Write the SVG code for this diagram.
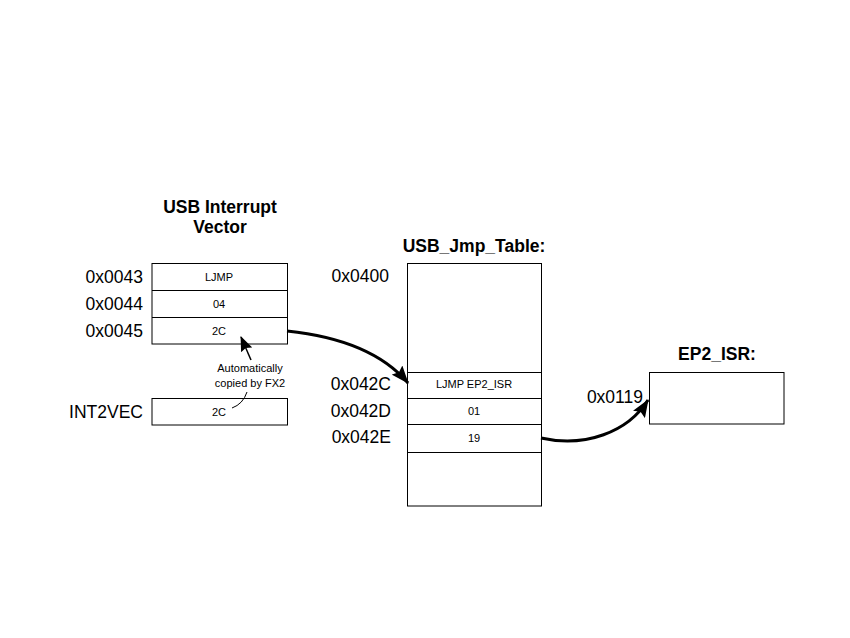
<svg xmlns="http://www.w3.org/2000/svg" width="850" height="638" viewBox="0 0 850 638">
<style>
text{font-family:"Liberation Sans",Arial,sans-serif;fill:#000}
.t{font-size:17.5px;font-weight:bold;text-anchor:middle}
.a{font-size:17.5px;text-anchor:end}
.c{font-size:11px;text-anchor:middle}
.n{font-size:11px;text-anchor:middle}
.box{fill:#fff;stroke:#000;stroke-width:1}
.sep{stroke:#000;stroke-width:1}
.arr{fill:none;stroke:#000;stroke-width:3}
</style>
<defs>
<marker id="ah" markerUnits="userSpaceOnUse" markerWidth="18" markerHeight="14" refX="17" refY="7" orient="auto">
<path d="M0,0 L18,7 L0,14 L3,7 Z" fill="#000"/>
</marker>
<marker id="ahs" markerUnits="userSpaceOnUse" markerWidth="15" markerHeight="12" refX="14" refY="6" orient="auto">
<path d="M0,0 L15,6 L0,12 L2,6 Z" fill="#000"/>
</marker>
</defs>
<rect width="850" height="638" fill="#fff"/>

<g id="usb-interrupt-vector">
<text class="t" x="220" y="213">USB Interrupt</text>
<text class="t" x="220" y="233">Vector</text>
<rect class="box" x="152" y="263.5" width="135.5" height="80.5"/>
<line class="sep" x1="152" y1="290.5" x2="287.5" y2="290.5"/>
<line class="sep" x1="152" y1="317.5" x2="287.5" y2="317.5"/>
<text class="a" x="143" y="283">0x0043</text>
<text class="a" x="143" y="310">0x0044</text>
<text class="a" x="143" y="337">0x0045</text>
<text class="c" x="219" y="281">LJMP</text>
<text class="c" x="219" y="308">04</text>
<text class="c" x="219" y="335">2C</text>
</g>

<g id="int2vec">
<rect class="box" x="152" y="398.5" width="135.5" height="26.5"/>
<text class="a" x="143" y="418">INT2VEC</text>
<text class="c" x="219" y="416">2C</text>
</g>

<g id="annotation">
<text class="n" x="250" y="372">Automatically</text>
<text class="n" x="250" y="387">copied by FX2</text>
</g>

<g id="usb-jmp-table">
<text class="t" x="474" y="252">USB_Jmp_Table:</text>
<rect class="box" x="407.5" y="263.5" width="134" height="242.5"/>
<line class="sep" x1="407.5" y1="372.5" x2="541.5" y2="372.5"/>
<line class="sep" x1="407.5" y1="398.5" x2="541.5" y2="398.5"/>
<line class="sep" x1="407.5" y1="424.5" x2="541.5" y2="424.5"/>
<line class="sep" x1="407.5" y1="452.5" x2="541.5" y2="452.5"/>
<text class="a" x="389" y="282">0x0400</text>
<text class="a" x="391" y="390">0x042C</text>
<text class="a" x="391" y="417">0x042D</text>
<text class="a" x="391" y="443">0x042E</text>
<text class="c" x="474" y="388">LJMP EP2_ISR</text>
<text class="c" x="474" y="415">01</text>
<text class="c" x="474" y="442">19</text>
</g>

<g id="ep2-isr">
<text class="t" x="717" y="360">EP2_ISR:</text>
<rect class="box" x="649.5" y="372.5" width="134.5" height="51.5"/>
<text class="a" x="643" y="403">0x0119</text>
</g>

<g id="connectors">
<path class="arr" d="M287,331 C335,336 380,350 408,383" marker-end="url(#ah)"/>
<path class="arr" d="M541,438 C585,448 628,432 648,400" marker-end="url(#ah)"/>
<path d="M251,360 L241,337" fill="none" stroke="#000" stroke-width="1.5" marker-end="url(#ahs)"/>
<path d="M247,392 Q243,404 232,408" fill="none" stroke="#000" stroke-width="1"/>
</g>
</svg>
